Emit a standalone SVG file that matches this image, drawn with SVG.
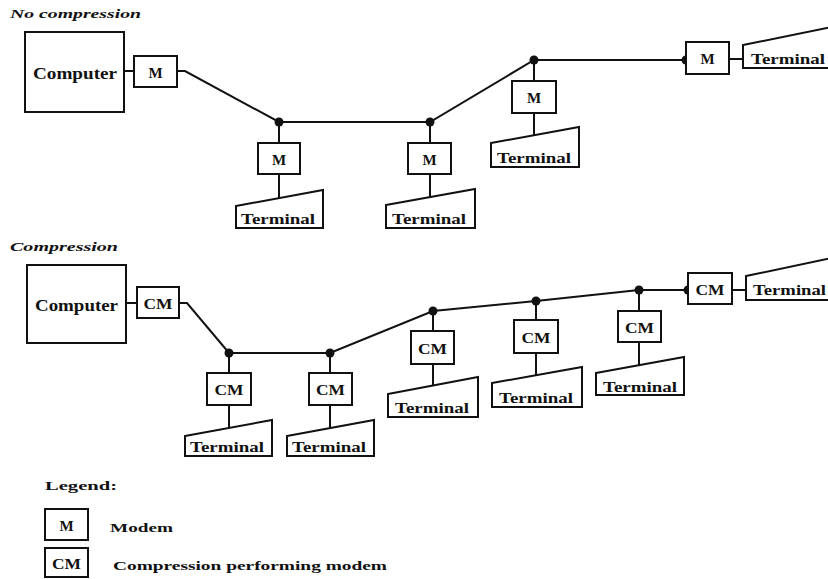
<svg xmlns="http://www.w3.org/2000/svg" width="828" height="579" viewBox="0 0 828 579">
<style>
.bx{fill:#fff;stroke:#111;stroke-width:2}
.ln{fill:none;stroke:#111;stroke-width:2}
.dot{fill:#111}
.t{font-family:"Liberation Serif","Times New Roman",serif;font-weight:bold;fill:#111}
.lbl{font-size:15px;text-anchor:middle}
.term{font-size:14.5px}
.ttl{font-family:"Liberation Serif","Times New Roman",serif;font-style:italic;font-weight:bold;font-size:13px;fill:#111}
</style>
<rect width="828" height="579" fill="#fff"/>
<text class="ttl" x="10" y="18" textLength="131" lengthAdjust="spacingAndGlyphs">No compression</text>
<text class="ttl" x="10" y="251" textLength="108" lengthAdjust="spacingAndGlyphs">Compression</text>

<g id="connectors">
<line class="ln" x1="124" y1="71" x2="134" y2="71"/>
<polyline class="ln" points="177,71 185,71 279,122 430,122 534,60 686,60"/>
<line class="ln" x1="279" y1="122" x2="279" y2="143"/>
<line class="ln" x1="279" y1="174" x2="279" y2="198"/>
<line class="ln" x1="430" y1="122" x2="430" y2="143"/>
<line class="ln" x1="430" y1="174" x2="430" y2="197"/>
<line class="ln" x1="534" y1="60" x2="534" y2="81"/>
<line class="ln" x1="534" y1="113" x2="534" y2="135"/>
<line class="ln" x1="729" y1="59" x2="743" y2="59"/>
<circle class="dot" cx="279" cy="122" r="4.5"/>
<circle class="dot" cx="430" cy="122" r="4.5"/>
<circle class="dot" cx="534" cy="60" r="4.5"/>
<circle class="dot" cx="686" cy="60" r="4.5"/>
<line class="ln" x1="126" y1="303" x2="137" y2="303"/>
<polyline class="ln" points="179,303 187,303 229,353 330,353 433,311 536,301 639,290 688,290"/>
<line class="ln" x1="229" y1="353" x2="229" y2="373"/>
<line class="ln" x1="229" y1="405" x2="229" y2="428"/>
<line class="ln" x1="330" y1="353" x2="330" y2="373"/>
<line class="ln" x1="330" y1="405" x2="330" y2="428"/>
<line class="ln" x1="433" y1="311" x2="433" y2="331"/>
<line class="ln" x1="433" y1="364" x2="433" y2="386"/>
<line class="ln" x1="536" y1="301" x2="536" y2="320"/>
<line class="ln" x1="536" y1="353" x2="536" y2="375"/>
<line class="ln" x1="639" y1="290" x2="639" y2="311"/>
<line class="ln" x1="639" y1="342" x2="639" y2="365"/>
<line class="ln" x1="732" y1="290" x2="746" y2="290"/>
<circle class="dot" cx="229" cy="353" r="4.5"/>
<circle class="dot" cx="330" cy="353" r="4.5"/>
<circle class="dot" cx="433" cy="311" r="4.5"/>
<circle class="dot" cx="536" cy="301" r="4.5"/>
<circle class="dot" cx="639" cy="290" r="4.5"/>
<circle class="dot" cx="688" cy="290" r="4.5"/>
</g>

<g id="computer1"><rect class="bx" x="25" y="32" width="99" height="80"/><text class="t" x="33" y="79" font-size="16" textLength="84" lengthAdjust="spacingAndGlyphs">Computer</text></g>
<g id="m0"><rect class="bx" x="134" y="56" width="43" height="31"/><text class="t lbl" x="155.5" y="78">M</text></g>
<g id="m1"><rect class="bx" x="258" y="143" width="42" height="31"/><text class="t lbl" x="279" y="165">M</text></g>
<g id="term1"><polygon class="bx" points="236,206 323,190 323,228 236,228"/><text class="t term" x="241" y="224" textLength="74" lengthAdjust="spacingAndGlyphs">Terminal</text></g>
<g id="m2"><rect class="bx" x="408" y="143" width="43" height="31"/><text class="t lbl" x="429.5" y="165">M</text></g>
<g id="term2"><polygon class="bx" points="386,205 475,189 475,228 386,228"/><text class="t term" x="392" y="224" textLength="74" lengthAdjust="spacingAndGlyphs">Terminal</text></g>
<g id="m3"><rect class="bx" x="512" y="81" width="44" height="32"/><text class="t lbl" x="534" y="103">M</text></g>
<g id="term3"><polygon class="bx" points="491,143 579,127 579,167 491,167"/><text class="t term" x="497" y="163" textLength="74" lengthAdjust="spacingAndGlyphs">Terminal</text></g>
<g id="m4"><rect class="bx" x="686" y="42" width="43" height="32"/><text class="t lbl" x="707.5" y="64">M</text></g>
<g id="term4"><polygon class="bx" points="743,45 832,27 832,68 743,68"/><text class="t term" x="751" y="64" textLength="74" lengthAdjust="spacingAndGlyphs">Terminal</text></g>

<g id="computer2"><rect class="bx" x="27" y="265" width="99" height="78"/><text class="t" x="35" y="311" font-size="16" textLength="83" lengthAdjust="spacingAndGlyphs">Computer</text></g>
<g id="cm0"><rect class="bx" x="137" y="287" width="42" height="31"/><text class="t lbl" x="158" y="309" textLength="29" lengthAdjust="spacingAndGlyphs">CM</text></g>
<g id="cm1"><rect class="bx" x="207" y="373" width="44" height="32"/><text class="t lbl" x="229" y="395" textLength="29" lengthAdjust="spacingAndGlyphs">CM</text></g>
<g id="cterm1"><polygon class="bx" points="185,436 272,420 272,456 185,456"/><text class="t term" x="190" y="452" textLength="74" lengthAdjust="spacingAndGlyphs">Terminal</text></g>
<g id="cm2"><rect class="bx" x="309" y="373" width="43" height="32"/><text class="t lbl" x="330.5" y="395" textLength="29" lengthAdjust="spacingAndGlyphs">CM</text></g>
<g id="cterm2"><polygon class="bx" points="287,436 374,420 374,456 287,456"/><text class="t term" x="292" y="452" textLength="74" lengthAdjust="spacingAndGlyphs">Terminal</text></g>
<g id="cm3"><rect class="bx" x="411" y="331" width="43" height="33"/><text class="t lbl" x="432.5" y="354" textLength="29" lengthAdjust="spacingAndGlyphs">CM</text></g>
<g id="cterm3"><polygon class="bx" points="388,394 478,377 478,417 388,417"/><text class="t term" x="395" y="413" textLength="74" lengthAdjust="spacingAndGlyphs">Terminal</text></g>
<g id="cm4"><rect class="bx" x="514" y="320" width="44" height="33"/><text class="t lbl" x="536" y="343" textLength="29" lengthAdjust="spacingAndGlyphs">CM</text></g>
<g id="cterm4"><polygon class="bx" points="492,383 582,367 582,407 492,407"/><text class="t term" x="499" y="403" textLength="74" lengthAdjust="spacingAndGlyphs">Terminal</text></g>
<g id="cm5"><rect class="bx" x="618" y="311" width="43" height="31"/><text class="t lbl" x="639.5" y="333" textLength="29" lengthAdjust="spacingAndGlyphs">CM</text></g>
<g id="cterm5"><polygon class="bx" points="596,373 684,357 684,395 596,395"/><text class="t term" x="603" y="392" textLength="74" lengthAdjust="spacingAndGlyphs">Terminal</text></g>
<g id="cm6"><rect class="bx" x="688" y="273" width="44" height="31"/><text class="t lbl" x="710" y="295" textLength="29" lengthAdjust="spacingAndGlyphs">CM</text></g>
<g id="cterm6"><polygon class="bx" points="746,276 832,258 832,300 746,300"/><text class="t term" x="753" y="295" textLength="73" lengthAdjust="spacingAndGlyphs">Terminal</text></g>

<g id="legend">
<text class="t" x="45" y="490" font-size="13" textLength="72" lengthAdjust="spacingAndGlyphs">Legend:</text>
<rect class="bx" x="45" y="509" width="43" height="31"/><text class="t lbl" x="66.5" y="531">M</text>
<text class="t" x="110" y="532" font-size="13" textLength="63" lengthAdjust="spacingAndGlyphs">Modem</text>
<rect class="bx" x="45" y="548" width="43" height="29"/><text class="t lbl" x="66.5" y="569" textLength="29" lengthAdjust="spacingAndGlyphs">CM</text>
<text class="t" x="113" y="570" font-size="13" textLength="274" lengthAdjust="spacingAndGlyphs">Compression performing modem</text>
</g>
</svg>
